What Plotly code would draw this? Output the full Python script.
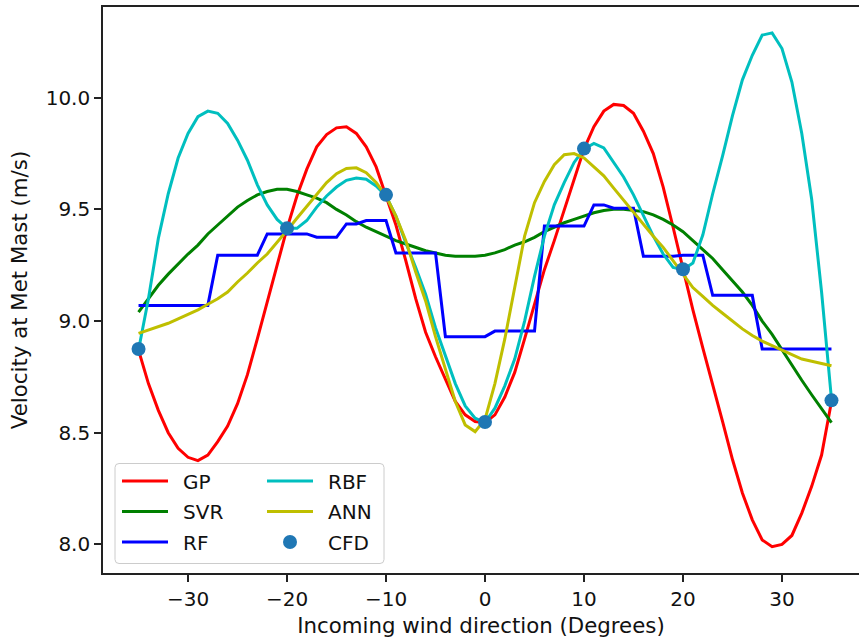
import plotly.graph_objects as go

# ---- data ----
ANGLES = list(range(-35, 36))

GP = [8.87, 8.72, 8.60, 8.50, 8.43, 8.39, 8.375, 8.40, 8.46, 8.53,
      8.63, 8.76, 8.92, 9.09, 9.25, 9.415, 9.56, 9.68, 9.78, 9.835,
      9.865, 9.87, 9.84, 9.78, 9.69, 9.56, 9.43, 9.27, 9.10, 8.95,
      8.84, 8.74, 8.64, 8.58, 8.55, 8.545, 8.58, 8.66, 8.77, 8.92,
      9.08, 9.23, 9.36, 9.50, 9.64, 9.77, 9.87, 9.94, 9.97, 9.965,
      9.93, 9.85, 9.75, 9.60, 9.42, 9.23, 9.05, 8.88, 8.72, 8.55,
      8.38, 8.23, 8.11, 8.02, 7.99, 8.00, 8.04, 8.14, 8.26, 8.40, 8.64]

SVR = [9.04, 9.10, 9.16, 9.21, 9.255, 9.30, 9.34, 9.39, 9.43, 9.47,
       9.51, 9.54, 9.565, 9.58, 9.59, 9.59, 9.58, 9.565, 9.55, 9.53,
       9.50, 9.475, 9.445, 9.42, 9.40, 9.38, 9.36, 9.345, 9.33, 9.315,
       9.305, 9.295, 9.29, 9.29, 9.29, 9.295, 9.305, 9.32, 9.34, 9.355,
       9.375, 9.40, 9.42, 9.44, 9.455, 9.47, 9.485, 9.495, 9.50, 9.50,
       9.495, 9.49, 9.475, 9.455, 9.43, 9.40, 9.36, 9.32, 9.28, 9.23,
       9.18, 9.13, 9.07, 9.00, 8.94, 8.87, 8.80, 8.735, 8.67, 8.61, 8.545]

RF = [9.07, 9.07, 9.07, 9.07, 9.07, 9.07, 9.07, 9.07, 9.295, 9.295,
      9.295, 9.295, 9.295, 9.39, 9.39, 9.39, 9.39, 9.39, 9.375, 9.375,
      9.375, 9.435, 9.435, 9.45, 9.45, 9.45, 9.305, 9.305, 9.305, 9.305,
      9.305, 8.93, 8.93, 8.93, 8.93, 8.93, 8.955, 8.955, 8.955, 8.955,
      8.955, 9.425, 9.425, 9.425, 9.425, 9.425, 9.52, 9.52, 9.505, 9.505,
      9.505, 9.29, 9.29, 9.29, 9.29, 9.295, 9.295, 9.295, 9.115, 9.115,
      9.115, 9.115, 9.115, 8.875, 8.875, 8.875, 8.875, 8.875, 8.875, 8.875, 8.875]

RBF = [8.87, 9.10, 9.37, 9.57, 9.73, 9.84, 9.915, 9.94, 9.93, 9.885,
       9.81, 9.72, 9.61, 9.52, 9.455, 9.415, 9.415, 9.45, 9.51, 9.56,
       9.60, 9.63, 9.64, 9.635, 9.605, 9.56, 9.47, 9.35, 9.24, 9.12,
       8.97, 8.84, 8.72, 8.62, 8.565, 8.545, 8.61, 8.71, 8.83, 9.00,
       9.20, 9.38, 9.52, 9.62, 9.71, 9.77, 9.795, 9.775, 9.71, 9.645,
       9.565, 9.47, 9.38, 9.30, 9.24, 9.23, 9.26, 9.385, 9.57, 9.74,
       9.92, 10.08, 10.19, 10.28, 10.29, 10.22, 10.07, 9.84, 9.545, 9.13, 8.65]

ANN = [8.945, 8.96, 8.975, 8.99, 9.01, 9.03, 9.05, 9.075, 9.10, 9.13,
       9.175, 9.215, 9.26, 9.30, 9.35, 9.405, 9.46, 9.515, 9.57, 9.62,
       9.66, 9.683, 9.686, 9.664, 9.62, 9.56, 9.47, 9.36, 9.22, 9.09,
       8.93, 8.79, 8.64, 8.535, 8.505, 8.56, 8.72, 8.92, 9.15, 9.38,
       9.53, 9.625, 9.70, 9.745, 9.75, 9.73, 9.69, 9.65, 9.595, 9.54,
       9.485, 9.43, 9.38, 9.33, 9.27, 9.21, 9.15, 9.11, 9.07, 9.035,
       9.00, 8.965, 8.935, 8.91, 8.89, 8.87, 8.85, 8.83, 8.82, 8.81, 8.80]

CFD_X = [-35, -20, -10, 0, 10, 20, 35]
CFD_Y = [8.875, 9.415, 9.565, 8.548, 9.772, 9.232, 8.645]

X_TICKS = [-30, -20, -10, 0, 10, 20, 30]
X_TICK_TEXT = ["\u221230", "\u221220", "\u221210", "0", "10", "20", "30"]
Y_TICKS = [8.0, 8.5, 9.0, 9.5, 10.0]

FONT = "DejaVu Sans"
FS = 20
FS_TITLE = 21.3
INK = "#111111"

fig = go.Figure()

line_series = [
    ("GP", GP, "#ff0000", "legend", 1),
    ("SVR", SVR, "#008000", "legend", 2),
    ("RF", RF, "#0000ff", "legend", 3),
    ("RBF", RBF, "#00bfbf", "legend2", 4),
    ("ANN", ANN, "#bfbf00", "legend2", 5),
]
for name, vals, col, leg, rank in line_series:
    fig.add_trace(go.Scatter(
        x=ANGLES, y=vals, mode="lines", name="\u2002" + name,
        line=dict(color=col, width=3),
        legend=leg, legendgroup=name, legendrank=rank,
    ))

fig.add_trace(go.Scatter(
    x=CFD_X, y=CFD_Y, mode="markers", name="\u2002CFD",
    marker=dict(color="#1f77b4", size=14, line=dict(width=0)),
    legend="legend2", legendgroup="CFD", legendrank=6,
))

W, H = 859, 642
ML, MT, MB, MR = 103, 7, 69, 0
PW, PH = W - ML - MR, H - MT - MB


def px_x(p):
    return (p - ML) / PW


def px_y(p):
    return (H - MB - p) / PH


# legend frame (rounded rectangle)
bx0, bx1, by0, by1 = px_x(115), px_x(384), px_y(563.5), px_y(463.5)
rx, ry = 4 / PW, 4 / PH
path = (f"M{bx0+rx},{by0} L{bx1-rx},{by0} Q{bx1},{by0} {bx1},{by0+ry} "
        f"L{bx1},{by1-ry} Q{bx1},{by1} {bx1-rx},{by1} "
        f"L{bx0+rx},{by1} Q{bx0},{by1} {bx0},{by1-ry} "
        f"L{bx0},{by0+ry} Q{bx0},{by0} {bx0+rx},{by0} Z")
fig.add_shape(type="path", path=path, xref="paper", yref="paper",
              fillcolor="rgba(255,255,255,0.8)", line=dict(color="#cccccc", width=1),
              layer="above")

legend_common = dict(
    bgcolor="rgba(0,0,0,0)", borderwidth=0, orientation="v",
    font=dict(family=FONT, size=FS, color=INK),
    tracegroupgap=1.5, itemwidth=46, yanchor="top", xanchor="left",
)

fig.update_layout(
    width=W, height=H,
    margin=dict(l=ML, r=MR, t=MT, b=MB, pad=0),
    paper_bgcolor="white", plot_bgcolor="white",
    font=dict(family=FONT, size=FS, color=INK),
    showlegend=True,
    legend=dict(x=px_x(117), y=px_y(461.5), **legend_common),
    legend2=dict(x=px_x(262), y=px_y(461.5), **legend_common),
    xaxis=dict(
        range=[-38.59, 37.78], tickvals=X_TICKS, ticktext=X_TICK_TEXT,
        showgrid=False, zeroline=False, showline=True, mirror=True,
        linecolor="#222222", linewidth=1.6,
        ticks="outside", ticklen=7, tickwidth=1.5, tickcolor="#222222",
        tickfont=dict(family=FONT, size=FS, color=INK),
        title=dict(text="Incoming wind direction (Degrees)",
                   font=dict(family=FONT, size=FS_TITLE, color=INK), standoff=8),
        automargin=False,
    ),
    yaxis=dict(
        range=[7.872, 10.406], tickvals=Y_TICKS, tickformat=".1f",
        showgrid=False, zeroline=False, showline=True, mirror=False,
        linecolor="#222222", linewidth=1.6,
        ticks="outside", ticklen=7, tickwidth=1.5, tickcolor="#222222",
        tickfont=dict(family=FONT, size=FS, color=INK),
        title=dict(text="Velocity at Met Mast (m/s)",
                   font=dict(family=FONT, size=FS_TITLE, color=INK), standoff=12),
        automargin=False,
    ),
)

fig.write_html("out.html", config={"displayModeBar": False},
               post_script="document.body.style.margin='0px';")
